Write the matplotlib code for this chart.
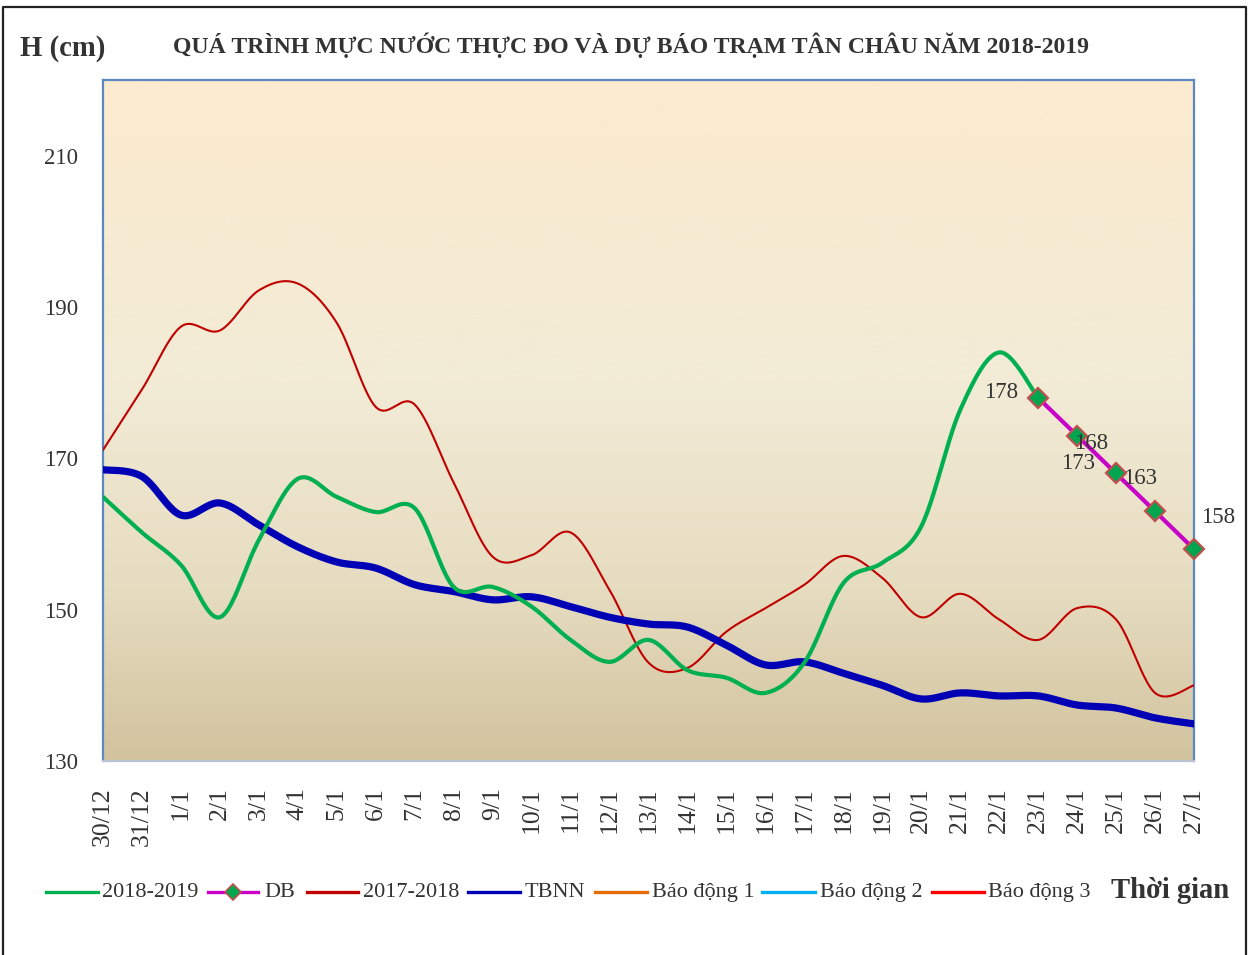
import numpy as np
import matplotlib
matplotlib.use("Agg")
import matplotlib.pyplot as plt
from matplotlib.lines import Line2D
from matplotlib.colors import LinearSegmentedColormap

# ---------------- data ----------------
dates = ["30/12", "31/12", "1/1", "2/1", "3/1", "4/1", "5/1", "6/1", "7/1", "8/1",
         "9/1", "10/1", "11/1", "12/1", "13/1", "14/1", "15/1", "16/1", "17/1",
         "18/1", "19/1", "20/1", "21/1", "22/1", "23/1", "24/1", "25/1", "26/1", "27/1"]

h_2018_2019 = [164.9, 160.2, 155.9, 149.0, 159.2, 167.3, 164.9, 162.9, 163.4, 153.0,
               153.0, 150.4, 146.0, 143.1, 146.0, 142.0, 141.0, 139.0, 143.0, 153.5,
               156.2, 161.0, 176.4, 184.0, 178.0]

db_dates_idx = [24, 25, 26, 27, 28]
db_values = [178, 173, 168, 163, 158]

h_2017_2018 = [171.1, 179.1, 187.4, 186.9, 192.2, 193.1, 187.9, 176.8, 177.1, 166.8,
               157.0, 157.2, 160.2, 152.6, 143.0, 142.3, 147.1, 150.2, 153.3, 157.1,
               154.2, 149.0, 152.1, 148.7, 146.0, 150.2, 148.7, 139.0, 140.0]

tbnn = [168.5, 167.6, 162.5, 164.1, 161.2, 158.3, 156.3, 155.5, 153.3, 152.4,
        151.3, 151.7, 150.4, 149.0, 148.1, 147.7, 145.3, 142.7, 143.1, 141.6,
        140.0, 138.2, 139.0, 138.6, 138.6, 137.4, 137.0, 135.7, 134.9]

y_ticks = [130, 150, 170, 190, 210]

# label offsets (points) for forecast values
db_label_offsets = [(-27, 4), (1, -20), (-18, 21.5), (-11, 23.4), (17, 23)]

legend_labels = ["2018-2019", "DB", "2017-2018", "TBNN", "Báo động 1", "Báo động 2", "Báo động 3"]

# ---------------- style ----------------
SERIF = ["Liberation Serif", "DejaVu Serif"]
plt.rcParams["font.family"] = SERIF

C_GREEN = "#00b050"
C_RED = "#c00000"
C_BLUE = "#0000b4"
C_MAG = "#c800c8"
C_ORANGE = "#e46c0a"
C_CYAN = "#00b0f0"
C_RED3 = "#ff0000"
TXT = "#333333"


def smooth(xs, ys, n=24):
    """Excel-like smoothed line (Bezier through data points)."""
    xs = np.asarray(xs, float)
    ys = np.asarray(ys, float)
    if len(xs) < 3:
        return xs, ys
    px = np.concatenate([[xs[0]], xs, [xs[-1]]])
    py = np.concatenate([[ys[0]], ys, [ys[-1]]])
    outx, outy = [], []
    t = np.linspace(0, 1, n, endpoint=False)
    for i in range(1, len(px) - 2):
        p0x, p1x, p2x, p3x = px[i - 1], px[i], px[i + 1], px[i + 2]
        p0y, p1y, p2y, p3y = py[i - 1], py[i], py[i + 1], py[i + 2]
        c1x = p1x + (p2x - p0x) / 6.0
        c1y = p1y + (p2y - p0y) / 6.0
        c2x = p2x - (p3x - p1x) / 6.0
        c2y = p2y - (p3y - p1y) / 6.0
        bx = ((1 - t) ** 3) * p1x + 3 * ((1 - t) ** 2) * t * c1x + 3 * (1 - t) * t ** 2 * c2x + t ** 3 * p2x
        by = ((1 - t) ** 3) * p1y + 3 * ((1 - t) ** 2) * t * c1y + 3 * (1 - t) * t ** 2 * c2y + t ** 3 * p2y
        outx.extend(bx)
        outy.extend(by)
    outx.append(xs[-1])
    outy.append(ys[-1])
    return np.array(outx), np.array(outy)


W, H = 1256, 955
fig = plt.figure(figsize=(W / 100, H / 100), dpi=100)
fig.patch.set_facecolor("white")

L, R, T, B = 103, 1194, 80, 761
ax = fig.add_axes([L / W, 1 - B / H, (R - L) / W, (B - T) / H])

# gradient background
cmap = LinearSegmentedColormap.from_list(
    "bg", [(0.0, "#fdebcf"), (0.45, "#f2ebd6"), (0.75, "#e6dcc0"), (1.0, "#d2c39e")])
grad = np.linspace(0, 1, 256).reshape(-1, 1)
ax.imshow(grad, cmap=cmap, aspect="auto", extent=[0, 1, 0, 1],
          transform=ax.transAxes, zorder=0, interpolation="bicubic")

x_all = np.arange(len(dates))

# series
sx, sy = smooth(x_all[:len(h_2017_2018)], h_2017_2018)
ax.plot(sx, sy, color=C_RED, lw=1.5, zorder=3, solid_capstyle="round")

sx, sy = smooth(x_all[:len(tbnn)], tbnn)
ax.plot(sx, sy, color=C_BLUE, lw=5.2, zorder=4, solid_capstyle="round")

sx, sy = smooth(x_all[:len(h_2018_2019)], h_2018_2019)
ax.plot(sx, sy, color=C_GREEN, lw=3.0, zorder=5, solid_capstyle="round")

ax.plot(db_dates_idx, db_values, color=C_MAG, lw=3.0, zorder=6,
        marker="D", markersize=10, markerfacecolor="#00a550",
        markeredgecolor="#c0504d", markeredgewidth=1.6, clip_on=False)

for xi, v, off in zip(db_dates_idx, db_values, db_label_offsets):
    ax.annotate(f"{v}", (xi, v), xytext=off, textcoords="offset points",
                ha="center", va="center", fontsize=16.5, color=TXT, zorder=7,
                annotation_clip=False)

ax.set_xlim(0, len(dates) - 1)
ax.set_ylim(130, 220)
ax.set_xticks(x_all)
ax.set_xticklabels(dates, rotation=90, fontsize=18.5, color=TXT)
ax.set_yticks(y_ticks)
ax.set_yticklabels([str(v) for v in y_ticks], fontsize=16.5, color=TXT)
ax.tick_params(axis="both", length=0)
ax.tick_params(axis="y", pad=18)
ax.tick_params(axis="x", pad=19)

for s in ["left", "top", "right"]:
    ax.spines[s].set_color("#5b87c5")
    ax.spines[s].set_linewidth(1.6)
ax.spines["bottom"].set_color("#b9c3d3")
ax.spines["bottom"].set_linewidth(1.6)

# titles
fig.text(20 / W, 1 - 48 / H, "H (cm)", fontsize=20.7, fontweight="bold",
         color=TXT, ha="left", va="center")
fig.text(631 / W, 1 - 45 / H,
         "QUÁ TRÌNH MỰC NƯỚC THỰC ĐO VÀ DỰ BÁO TRẠM TÂN CHÂU NĂM 2018-2019",
         fontsize=17.1, fontweight="bold", color=TXT, ha="center", va="center")
fig.text(1111 / W, 1 - 891 / H, "Thời gian", fontsize=20.6, fontweight="bold",
         color=TXT, ha="left", va="center")

# manual legend (line start, line end, text start, colour, marker)
ly = 1 - 892 / H
leg_items = [
    (46, 98, 102, C_GREEN, None),
    (208, 258, 264, C_MAG, "D"),
    (307, 358, 363, C_RED, None),
    (468, 520, 525, C_BLUE, None),
    (595, 647, 652, C_ORANGE, None),
    (762, 815, 820, C_CYAN, None),
    (932, 984, 988, C_RED3, None),
]
for (x0, x1, xt, col, mk), lab in zip(leg_items, legend_labels):
    fig.add_artist(Line2D([x0 / W, x1 / W], [ly, ly], color=col, lw=2.4,
                          transform=fig.transFigure))
    if mk:
        fig.add_artist(Line2D([(x0 + x1) / 2 / W], [ly], marker=mk, markersize=8,
                              markerfacecolor="#00a550", markeredgecolor="#c0504d",
                              markeredgewidth=1.2, transform=fig.transFigure))
    fig.text(xt / W, ly, lab, fontsize=16.0, color=TXT, ha="left", va="center")

# outer frame (left, top, right)
fig.add_artist(Line2D([3 / W, 3 / W, 1246 / W, 1246 / W], [0, 1 - 7 / H, 1 - 7 / H, 0],
                      color="#222222", lw=1.6, transform=fig.transFigure))

fig.savefig("out.png", dpi=100, facecolor="white")
